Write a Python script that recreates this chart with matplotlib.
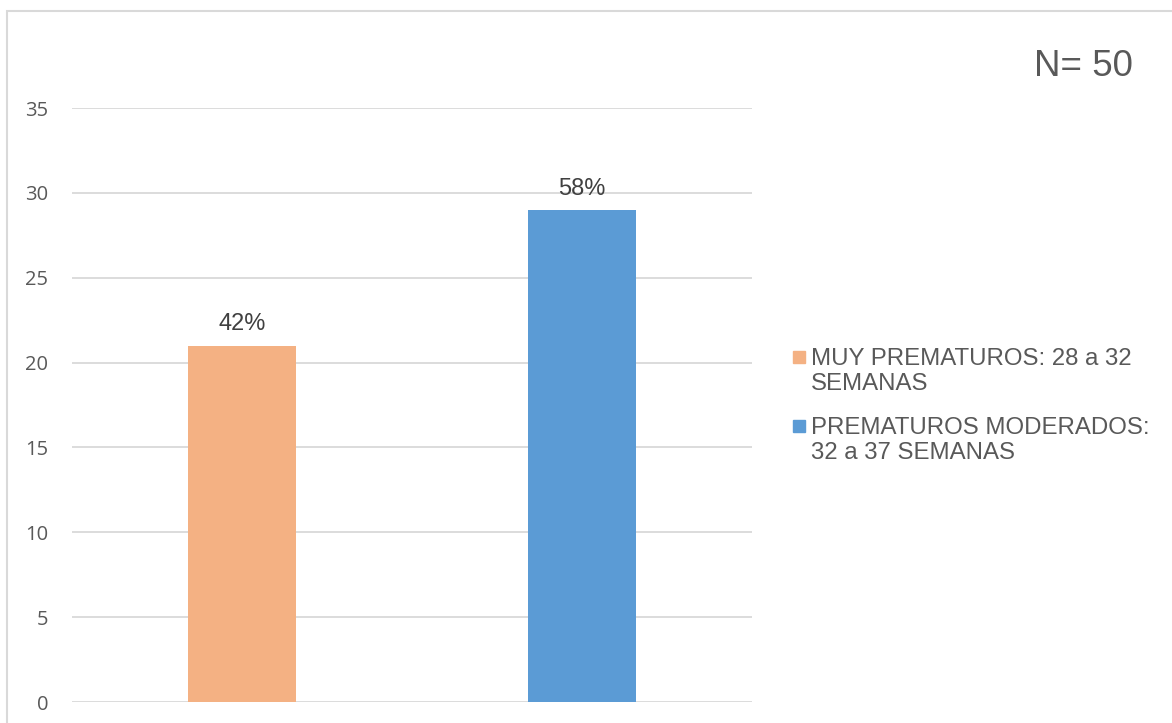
import matplotlib.pyplot as plt
from matplotlib.patches import Rectangle

# Datos: recién nacidos prematuros por edad gestacional (N = 50)
categorias = ['MUY PREMATUROS: 28 a 32\nSEMANAS', 'PREMATUROS MODERADOS:\n32 a 37 SEMANAS']
casos = [21, 29]
porcentajes = ['42%', '58%']
colores = ['#F4B183', '#5B9BD5']
yticks = [0, 5, 10, 15, 20, 25, 30, 35]

gris = '#595959'
W, H = 1172, 723

fig = plt.figure(figsize=(W / 100, H / 100), dpi=100)
ax = fig.add_axes([72 / W, 21 / H, 680 / W, 594 / H])

# Marco del gráfico (sólo se ven los bordes superior e izquierdo)
fig.patches.append(Rectangle((7 / W, -0.2), 1.2, 1.2 - 11 / H,
                             transform=fig.transFigure, fill=False,
                             edgecolor='#D9D9D9', linewidth=1.5))

x = [0, 1]
barras = ax.bar(x, casos, width=0.315, color=colores, zorder=3)

for b, txt in zip(barras, porcentajes):
    ax.text(b.get_x() + b.get_width() / 2, b.get_height() + 0.6, txt,
            ha='center', va='bottom', fontsize=17, color='#404040',
            family='Liberation Sans')

ax.set_xlim(-0.5, 1.5)
ax.set_ylim(0, 35)
ax.set_yticks(yticks)
ax.set_xticks([])
ax.tick_params(axis='y', length=0, pad=17, labelsize=14.5, labelcolor=gris)
for lbl in ax.get_yticklabels():
    lbl.set_family('Open Sans')
ax.grid(axis='y', color='#D9D9D9', linewidth=1.3, zorder=0)
for s in ax.spines.values():
    s.set_visible(False)

# Leyenda: cuadro de color alineado con la primera línea de cada etiqueta
leyenda_y = [348, 417]
for etiqueta, color, yt in zip(categorias, colores, leyenda_y):
    fig.patches.append(Rectangle((793 / W, 1 - (yt + 15) / H), 12 / W, 12 / H,
                                 transform=fig.transFigure, color=color))
    fig.text(811 / W, 1 - yt / H, etiqueta, ha='left', va='top',
             fontsize=17.3, color=gris, family='Liberation Sans',
             linespacing=1.2)

fig.text(1133 / W, 1 - 67 / H, 'N= 50', ha='right', va='center',
         fontsize=26.5, color=gris, family='Liberation Sans')

fig.savefig('out.png', dpi=100)
